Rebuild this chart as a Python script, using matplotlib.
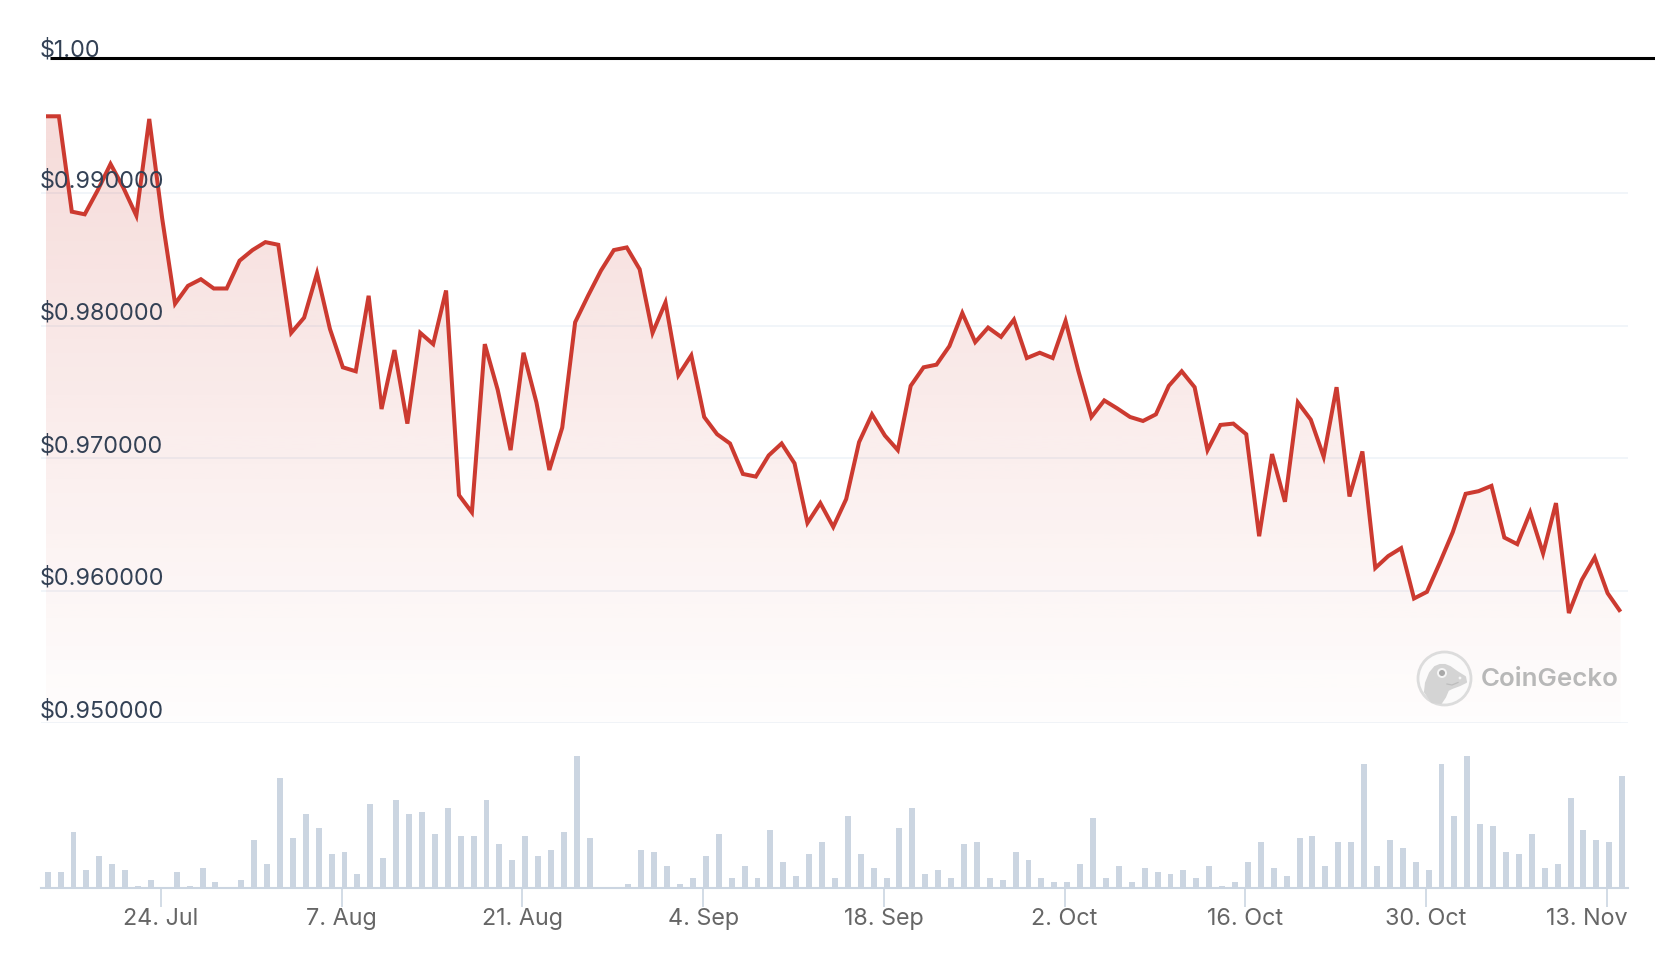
import numpy as np
import pandas as pd
import matplotlib
matplotlib.use('Agg')
import matplotlib.pyplot as plt
from matplotlib.patches import Circle, Polygon

plt.rcParams['font.family'] = ['Inter', 'DejaVu Sans']

# daily price, 15 Jul to 14 Nov
price = [
    .9958, .9958, .9886, .9884, .9902, .9922, .9904, .9883, .9956, .9881,
    .98165, .9830, .9835, .9828, .9828, .9849, .9857, .9863, .9861, .97945,
    .98060, .98395, .97975, .97685, .97655, .98225, .9737, .97815, .9726, .97945,
    .9786, .98265, .9672, .9659, .9786, .97515, .9706, .97795, .9742, .9691,
    .9723, .98025, .98225, .98415, .9857, .9859, .98425, .97945, .98175, .97625,
    .97775, .9731, .9718, .9711, .9688, .9686, .9702, .9711, .9696, .9651,
    .9666, .9648, .9669, .9712, .9733, .9717, .9706, .97545, .97685, .97705,
    .97845, .98095, .97875, .97985, .97915, .98045, .97755, .97795, .97755, .98035,
    .97655, .9731, .97435, .97375, .9731, .9728, .9733, .97545, .97655, .97535,
    .9706, .9725, .9726, .9718, .9641, .9703, .9667, .9742, .9729, .9701,
    .97535, .9671, .9705, .9617, .9626, .9632, .9594, .9599, .9621, .9644,
    .9673, .9675, .9679, .964, .9635, .9659, .9628, .9666, .9583, .9608,
    .9625, .9598, .9584,
]

# volume, no scale on the chart so relative units
volume = [
    47, 47, 167, 53, 95, 71, 53, 5, 23, 0,
    47, 5, 59, 17, 0, 23, 143, 71, 329, 149,
    221, 179, 101, 107, 41, 251, 89, 263, 221, 227,
    161, 239, 155, 155, 263, 131, 83, 155, 95, 113,
    167, 396, 149, 0, 0, 11, 113, 107, 65, 11,
    29, 95, 161, 29, 65, 29, 173, 77, 35, 101,
    137, 29, 215, 101, 59, 29, 179, 239, 41, 53,
    29, 131, 137, 29, 23, 107, 83, 29, 17, 17,
    71, 209, 29, 65, 17, 59, 47, 41, 53, 29,
    65, 5, 17, 77, 137, 59, 35, 149, 155, 65,
    137, 137, 371, 65, 143, 119, 77, 53, 371, 215,
    396, 191, 185, 107, 101, 161, 59, 71, 269, 173,
    143, 137, 335,
]

y_ticks = [0.95, 0.96, 0.97, 0.98, 0.99, 1.00]
y_labels = ['$0.950000', '$0.960000', '$0.970000', '$0.980000', '$0.990000', '$1.00']
x_ticks = ['2023-07-24', '2023-08-07', '2023-08-21', '2023-09-04', '2023-09-18',
           '2023-10-02', '2023-10-16', '2023-10-30', '2023-11-13']
x_labels = ['24. Jul', '7. Aug', '21. Aug', '4. Sep', '18. Sep', '2. Oct', '16. Oct', '30. Oct', '13. Nov']

W, H = 1656, 956
days = pd.date_range('2023-07-15', periods=len(price))
xnum = matplotlib.dates.date2num(days)
per_day = (1620.5 - 46) / 122
xlim = (xnum[0] - (46 - 41) / per_day, xnum[-1] + (1628 - 1620.5) / per_day)
y_top = 1.0002

fig = plt.figure(figsize=(W / 100, H / 100), dpi=100)
ax = fig.add_axes([41 / W, 1 - 723 / H, (1628 - 41) / W, (723 - 58) / H])
ax2 = fig.add_axes([41 / W, 1 - 888 / H, (1628 - 41) / W, (888 - 756) / H])
ax.axis('off')

for t, lab in zip(y_ticks, y_labels):
    if t < 1:
        ax.axhline(t, color='#f1f5f9', lw=1.4, zorder=1)
    off = 0.00043 if t < 1 else 0.00033
    ax.text(-0.0008, t + off, lab, transform=ax.get_yaxis_transform(), ha='left', va='baseline',
            fontsize=16.8, color='#334155', zorder=5)

# area under the line, fades to white
poly = ax.fill_between(xnum, price, 0.95, color='none')
grad = np.ones((256, 1, 4))
grad[:, 0, 0] = 204 / 255
grad[:, 0, 1] = 58 / 255
grad[:, 0, 2] = 47 / 255
grad[:, 0, 3] = np.linspace(0.18, 0.01, 256)
im = ax.imshow(grad, extent=[xnum[0], xnum[-1], 0.95, max(price)], aspect='auto', origin='upper', zorder=2)
im.set_clip_path(poly.get_paths()[0], transform=ax.transData)
ax.set_xlim(xlim)
ax.set_ylim(0.95, y_top)

ax.plot(xnum, price, color='#cc3a30', lw=2.9, solid_joinstyle='miter', solid_capstyle='butt', zorder=4)

# peg line at $1, runs off the right edge
ax.plot([(50 - 41) / (1628 - 41), (1656 - 41) / (1628 - 41)], [y_top, y_top], transform=ax.get_yaxis_transform(),
        color='black', lw=2.2, clip_on=False, zorder=6, solid_capstyle='butt')

# volume bars
ax2.set_xlim(xlim)
ax2.set_ylim(0, max(volume))
ax2.bar(xnum + 0.13, volume, width=0.46, color='#cbd5e1', linewidth=0)
for s in ['top', 'left', 'right']:
    ax2.spines[s].set_visible(False)
ax2.spines['bottom'].set_color('#cbd5e1')
ax2.spines['bottom'].set_linewidth(1.5)
ax2.set_yticks([])
ax2.set_xticks(matplotlib.dates.date2num(pd.to_datetime(x_ticks)) - 0.08)
ax2.set_xticklabels(x_labels[:-1] + [''], fontsize=16.8, color='#666666')
ax2.tick_params(axis='x', length=14, width=1.2, color='#cbd5e1', pad=0.5)

# last label stops at the plot edge
ax2.annotate(x_labels[-1], xy=(1, 0), xycoords='axes fraction', xytext=(0, -14.5), textcoords='offset points',
             ha='right', va='top', fontsize=16.8, color='#666666')

# CoinGecko logo
logo = fig.add_axes([0, 0, 1, 1], facecolor='none')
logo.set_xlim(0, W)
logo.set_ylim(H, 0)
logo.axis('off')
logo.add_patch(Circle((1444.5, 678.5), 26.5, fc='#fbfafa', ec='#dcdcdc', lw=2))
gecko = [(1425, 692), (1426, 683), (1430, 673), (1435, 667), (1440, 665), (1445, 665), (1450, 667), (1457, 672),
         (1465, 677), (1466, 682), (1460, 685), (1452, 688), (1448, 690), (1445, 697), (1441, 703), (1432, 702)]
logo.add_patch(Polygon(gecko, closed=True, fc='#d4d4d4', ec='#d4d4d4', lw=1.5, joinstyle='round'))
logo.add_patch(Circle((1442, 673), 5, fc='#f5f5f5', ec='none'))
logo.add_patch(Circle((1442, 673), 3, fc='#a8a8a8', ec='none'))
logo.add_patch(Circle((1460, 678), 1.4, fc='#f5f5f5', ec='none'))
logo.plot([1447, 1452, 1458], [684, 685, 682.5], color='#bdbdbd', lw=0.9)
logo.text(1481, 680, 'CoinGecko', fontsize=18.7, fontweight='semibold', color='#b8b8b8', va='center', ha='left')

fig.savefig('out.png', dpi=100)
